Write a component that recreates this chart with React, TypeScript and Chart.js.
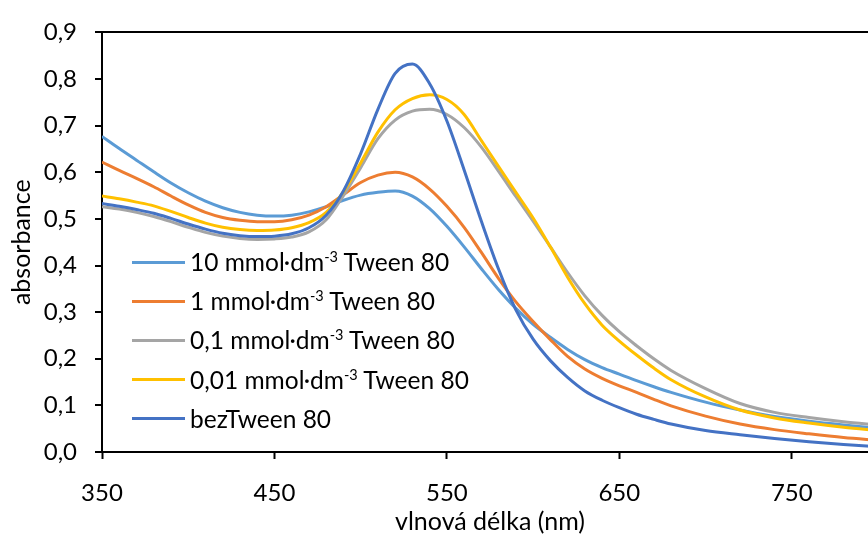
import { useEffect, useRef } from 'react';
import { Chart, registerables } from 'chart.js';

Chart.register(...registerables);

const wavelengths = [350, 360, 370, 380, 390, 400, 410, 420, 430, 440, 450, 460, 470, 480, 490, 500, 510, 520, 530, 540, 550, 560, 570, 580, 590, 600, 610, 620, 630, 640, 650, 660, 670, 680, 700, 720, 740, 760, 780, 800];

const tween10 = [0.677, 0.651, 0.626, 0.601, 0.577, 0.556, 0.538, 0.524, 0.514, 0.508, 0.506, 0.508, 0.515, 0.526, 0.540, 0.551, 0.557, 0.560, 0.549, 0.522, 0.484, 0.440, 0.393, 0.348, 0.308, 0.274, 0.246, 0.220, 0.198, 0.181, 0.167, 0.153, 0.140, 0.128, 0.107, 0.090, 0.076, 0.066, 0.058, 0.051];
const tween1 = [0.622, 0.604, 0.587, 0.569, 0.549, 0.530, 0.514, 0.503, 0.497, 0.494, 0.494, 0.498, 0.508, 0.526, 0.552, 0.578, 0.594, 0.600, 0.590, 0.564, 0.527, 0.482, 0.428, 0.372, 0.322, 0.280, 0.241, 0.205, 0.178, 0.158, 0.142, 0.128, 0.113, 0.099, 0.077, 0.060, 0.048, 0.039, 0.031, 0.025];
const tween01 = [0.526, 0.521, 0.514, 0.505, 0.494, 0.482, 0.471, 0.463, 0.458, 0.456, 0.457, 0.461, 0.472, 0.498, 0.550, 0.610, 0.672, 0.712, 0.731, 0.735, 0.724, 0.696, 0.654, 0.602, 0.548, 0.495, 0.440, 0.385, 0.335, 0.293, 0.258, 0.228, 0.200, 0.175, 0.136, 0.104, 0.085, 0.074, 0.065, 0.058];
const tween001 = [0.549, 0.543, 0.536, 0.528, 0.516, 0.503, 0.491, 0.482, 0.477, 0.475, 0.476, 0.481, 0.492, 0.514, 0.558, 0.620, 0.686, 0.734, 0.758, 0.766, 0.756, 0.724, 0.668, 0.612, 0.557, 0.502, 0.440, 0.375, 0.318, 0.272, 0.238, 0.208, 0.180, 0.155, 0.118, 0.090, 0.073, 0.062, 0.053, 0.046];
const bezTween = [0.533, 0.527, 0.520, 0.512, 0.501, 0.489, 0.478, 0.469, 0.464, 0.462, 0.463, 0.468, 0.481, 0.508, 0.560, 0.640, 0.735, 0.812, 0.832, 0.790, 0.710, 0.605, 0.495, 0.392, 0.305, 0.242, 0.196, 0.160, 0.131, 0.111, 0.095, 0.081, 0.070, 0.060, 0.046, 0.037, 0.029, 0.022, 0.016, 0.011];

const seriesValues = [tween10, tween1, tween01, tween001, bezTween];
const seriesLabels = ['10 mmol·dm⁻³ Tween 80', '1 mmol·dm⁻³ Tween 80', '0,1 mmol·dm⁻³ Tween 80', '0,01 mmol·dm⁻³ Tween 80', 'bezTween 80'];
const seriesColors = ['#5B9BD5', '#ED7D31', '#A5A5A5', '#FFC000', '#4472C4'];

const xTicks = [350, 450, 550, 650, 750];
const yTicks = [0, 0.1, 0.2, 0.3, 0.4, 0.5, 0.6, 0.7, 0.8, 0.9];
const xMin = 350;
const xMax = 800;
const yMin = 0;
const yMax = 0.9;
const xTitle = 'vlnová délka (nm)';
const yTitle = 'absorbance';

const FONT = 'Lato, "Open Sans", sans-serif';

export default function App() {
  const ref = useRef<HTMLCanvasElement>(null);

  useEffect(() => {
    const canvas = ref.current;
    if (!canvas) return;
    const chart = new Chart(canvas, {
      type: 'line',
      data: {
        datasets: seriesValues.map((vals, i) => ({
          label: seriesLabels[i],
          data: wavelengths.map((w, j) => ({ x: w, y: vals[j] })),
          borderColor: seriesColors[i],
          backgroundColor: seriesColors[i],
          borderWidth: 3,
          pointRadius: 0,
          cubicInterpolationMode: 'monotone' as const,
          fill: false,
          order: seriesValues.length - 1 - i,
        })),
      },
      options: {
        animation: false,
        responsive: false,
        layout: { padding: { left: 0, right: 2, top: 24, bottom: 0 } },
        plugins: {
          legend: { display: false },
          tooltip: { enabled: false },
        },
        scales: {
          x: {
            type: 'linear',
            min: xMin,
            max: xMax,
            afterBuildTicks: (scale: any) => {
              scale.ticks = xTicks.map((v) => ({ value: v }));
            },
            afterFit: (scale: any) => {
              scale.height = 87;
            },
            grid: {
              drawOnChartArea: false,
              drawTicks: true,
              tickLength: 7,
              tickColor: '#000',
              tickWidth: 2,
            },
            border: { display: true, color: '#000', width: 2 },
            ticks: {
              color: '#000',
              font: { family: FONT, size: 24 },
              padding: 20,
              maxRotation: 0,
              callback: (v: any) => String(v),
            },
            title: {
              display: true,
              text: xTitle,
              color: '#000',
              font: { family: FONT, size: 25 },
              padding: { top: 0, bottom: 2 },
            },
          },
          y: {
            type: 'linear',
            min: yMin,
            max: yMax,
            afterBuildTicks: (scale: any) => {
              scale.ticks = yTicks.map((v) => ({ value: v }));
            },
            afterFit: (scale: any) => {
              scale.width = 102;
            },
            grid: {
              drawOnChartArea: true,
              color: (ctx: any) =>
                ctx.tick && Math.abs(ctx.tick.value - yMax) < 1e-6 ? '#000' : 'rgba(0,0,0,0)',
              lineWidth: 2,
              drawTicks: true,
              tickLength: 7,
              tickColor: '#000',
              tickWidth: 2,
            },
            border: { display: true, color: '#000', width: 2 },
            ticks: {
              color: '#000',
              font: { family: FONT, size: 24 },
              padding: 18,
              callback: (v: any) => Number(v).toFixed(1).replace('.', ','),
            },
            title: {
              display: true,
              text: yTitle,
              color: '#000',
              font: { family: FONT, size: 25 },
              padding: { top: 7, bottom: 0 },
            },
          },
        },
      },
    });
    return () => chart.destroy();
  }, []);

  const legendTop = 262;
  const legendStep = 39.2;

  return (
    <div
      style={{
        position: 'fixed',
        left: 0,
        top: 0,
        width: 868,
        height: 539,
        overflow: 'hidden',
        background: '#fff',
      }}
    >
      <canvas ref={ref} width={880} height={539} style={{ display: 'block', width: 880, height: 539 }} />
      {seriesLabels.map((label, i) => {
        const parts = label.split('⁻³');
        const cy = legendTop + i * legendStep;
        return (
          <div key={i}>
            <div
              style={{
                position: 'absolute',
                left: 132,
                top: cy - 1.5,
                width: 53,
                height: 3,
                background: seriesColors[i],
              }}
            />
            <div
              style={{
                position: 'absolute',
                left: 190,
                top: cy - 15,
                height: 30,
                lineHeight: '30px',
                fontFamily: FONT,
                fontSize: 24.5,
                color: '#000',
                whiteSpace: 'pre',
              }}
            >
              {parts[0]}
              {parts.length > 1 ? (
                <>
                  <span style={{ fontSize: 14.5, position: 'relative', top: -9 }}>-3</span>
                  {parts[1]}
                </>
              ) : null}
            </div>
          </div>
        );
      })}
    </div>
  );
}
